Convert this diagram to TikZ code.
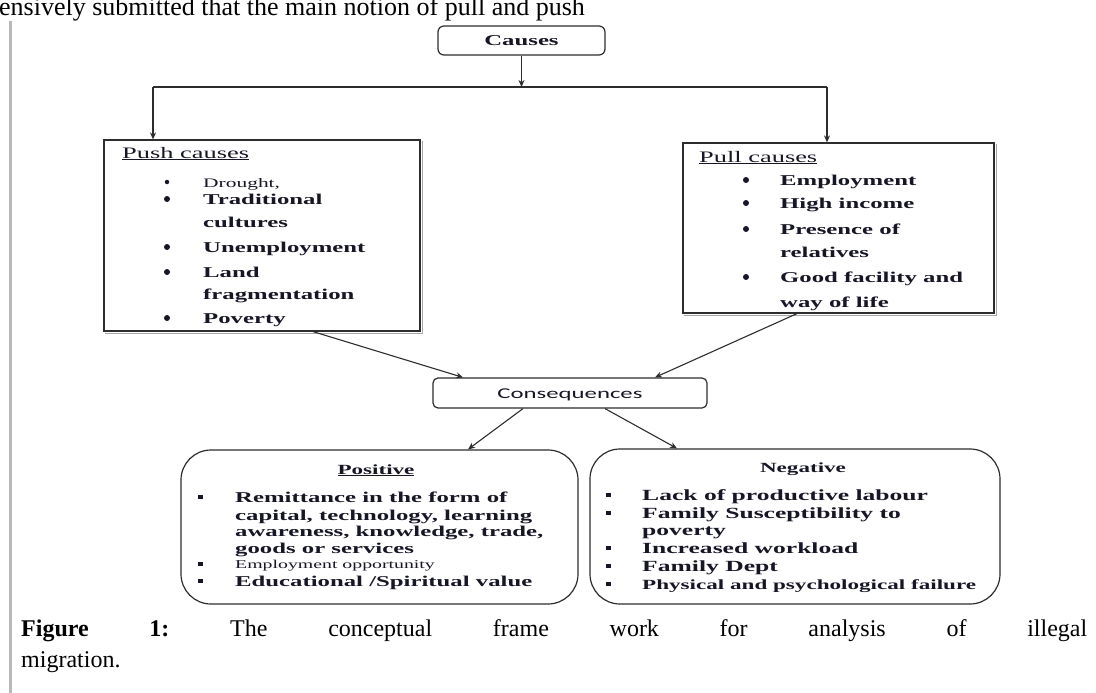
\documentclass[tikz,border=0pt]{standalone}
\usepackage{fontspec}
\setmainfont{Liberation Serif}
\newfontfamily\df[FakeStretch=1.65]{Liberation Serif}
\newfontfamily\cf[FakeStretch=1.65]{Carlito}
\usetikzlibrary{arrows.meta}
\definecolor{ink}{RGB}{22,22,38}
\definecolor{ln}{RGB}{45,45,45}
\newcommand\fsz[1]{\fontsize{#1}{#1}\selectfont}
\tikzset{
  sqbox/.style={draw=ln, line width=1.2pt, inner sep=0pt},
  rbox/.style={draw=ln, line width=1.2pt, rounded corners=6pt, inner sep=0pt},
  bigrbox/.style={draw=ln, line width=1.2pt, rounded corners=30pt, inner sep=0pt},
  conn/.style={draw=ln, line width=1.1pt, -{Stealth[length=7pt,width=6pt]}},
  plain/.style={draw=ln, line width=1.1pt},
  shade/.style={draw=gray!70, line width=1.6pt},
  txt/.style={anchor=base west, inner sep=0pt, text=ink},
  ctxt/.style={anchor=base, inner sep=0pt, text=ink},
  dot/.style={circle, fill=ink, inner sep=0pt, minimum size=6pt},
  sq/.style={rectangle, fill=ink, inner sep=0pt, minimum width=5pt, minimum height=4pt},
}
\begin{document}
\frenchspacing
\begin{tikzpicture}[x=1pt,y=-1pt]
\useasboundingbox (0,0) rectangle (1096,693);
% page text
\node[txt, text=black] (toptext) at (-1,15.5) {\fsz{26}ensively submitted that the main notion of pull and push};
\draw[gray!55, line width=3pt] (10,21) coordinate (barA) -- (10,693) coordinate (barB);
% boxes
\node[rbox, minimum width=167pt, minimum height=29pt] (causes) at (521.5,40.5) {};
\node[ctxt] (causestxt) at (521.5,45.5) {\df\bfseries\fsz{15}Causes};
\node[sqbox, minimum width=316pt, minimum height=191pt] (push) at (262,235.5) {};
\node[sqbox, minimum width=311pt, minimum height=170pt] (pull) at (838.5,228) {};
\draw[shade] ([xshift=1.8pt,yshift=-2pt]push.north east) -- ([xshift=1.8pt,yshift=-1.8pt]push.south east) -- ([xshift=2pt,yshift=-1.8pt]push.south west);
\draw[shade] ([xshift=1.8pt,yshift=-2pt]pull.north east) -- ([xshift=1.8pt,yshift=-1.8pt]pull.south east) -- ([xshift=2pt,yshift=-1.8pt]pull.south west);
\node[rbox, rounded corners=5pt, minimum width=274pt, minimum height=30pt] (cons) at (570,393) {};
\node[ctxt] (constxt) at (570,398) {\cf\fsz{15}Consequences};
\node[bigrbox, minimum width=397pt, minimum height=154pt] (pos) at (379.5,527) {};
\node[bigrbox, minimum width=410pt, minimum height=155pt] (neg) at (795,526.5) {};
% connectors
\coordinate (jc) at (521.5,87);
\coordinate (jl) at (153,87);
\coordinate (jr) at (827,87);
\draw[conn] (causes.south) -- (jc);
\draw[plain] (jl) -- (jr);
\draw[conn] (jl) -- (jl |- push.north);
\draw[conn] (jr) -- (jr |- pull.north);
\draw[conn] ([xshift=51pt]push.south) -- ([xshift=-107pt]cons.north);
\draw[conn] ([xshift=-41.5pt]pull.south) -- ([xshift=85pt]cons.north);
\draw[conn] ([xshift=-47pt]cons.south) -- ([xshift=88.5pt]pos.north);
\draw[conn] ([xshift=35pt]cons.south) -- ([xshift=-118pt]neg.north);
% push causes
\node[txt] (pusht) at (122,158) {\df\fsz{16}\underline{Push causes}};
\node[txt] (pu1) at (203,187) {\df\fsz{13}Drought,};
\foreach \n/\y/\t in {pu2/204/Traditional, pu3/227/cultures, pu4/252/Unemployment, pu5/277/Land, pu6/299/fragmentation, pu7/323/Poverty}
  \node[txt] (\n) at (203,\y) {\df\bfseries\fsz{15}\t};
\node[dot, minimum size=4.5pt] (pb1) at (167,182) {};
\foreach \n/\y in {pb2/199, pb3/247, pb4/272, pb5/318}
  \node[dot] (\n) at (167,\y) {};
% pull causes
\node[txt] (pullt) at (699,162) {\df\fsz{16}\underline{Pull causes}};
\foreach \n/\y/\t in {pl1/185/Employment, pl2/208/High income, pl3/234/Presence of, pl4/257/relatives, pl5/282/Good facility and, pl6/307/way of life}
  \node[txt] (\n) at (780,\y) {\df\bfseries\fsz{15}\t};
\foreach \n/\y in {qb1/180, qb2/203, qb3/229, qb4/277}
  \node[dot] (\n) at (746,\y) {};
% positive
\node[ctxt] (post) at (376,474) {\df\bfseries\fsz{14}\underline{Positive}};
\foreach \n/\y/\t in {po1/502/{Remittance in the form of}, po2/520/{capital, technology, learning}, po3/536/{awareness, knowledge, trade,}, po4/553/{goods or services}}
  \node[txt] (\n) at (235,\y) {\df\bfseries\fsz{15}\t};
\node[txt] (po5) at (235,568) {\df\fsz{12}Employment opportunity};
\node[txt] (po6) at (235,586) {\df\bfseries\fsz{15}Educational /Spiritual value};
\foreach \n/\y in {ps1/497, ps2/564, ps3/581}
  \node[sq] (\n) at (200,\y) {};
% negative
\node[ctxt] (negt) at (803,472) {\df\bfseries\fsz{14}Negative};
\foreach \n/\y/\t in {ne1/500/{Lack of productive labour}, ne2/518/{Family Susceptibility to}, ne3/535/{poverty}, ne4/553/{Increased workload}, ne5/571/{Family Dept}}
  \node[txt] (\n) at (642,\y) {\df\bfseries\fsz{15.5}\t};
\node[txt] (ne6) at (642,589) {\df\bfseries\fsz{14}Physical and psychological failure};
\foreach \n/\y in {ns1/495, ns2/513, ns3/548, ns4/566, ns5/584}
  \node[sq] (\n) at (608,\y) {};
% caption
\node[txt, text=black] (cap1) at (21,636) {\fsz{24}\makebox[1066pt][s]{\textbf{Figure 1:} The conceptual frame work for analysis of illegal}};
\node[txt, text=black] (cap2) at (21,667) {\fsz{24}migration.};
\end{tikzpicture}
\end{document}
